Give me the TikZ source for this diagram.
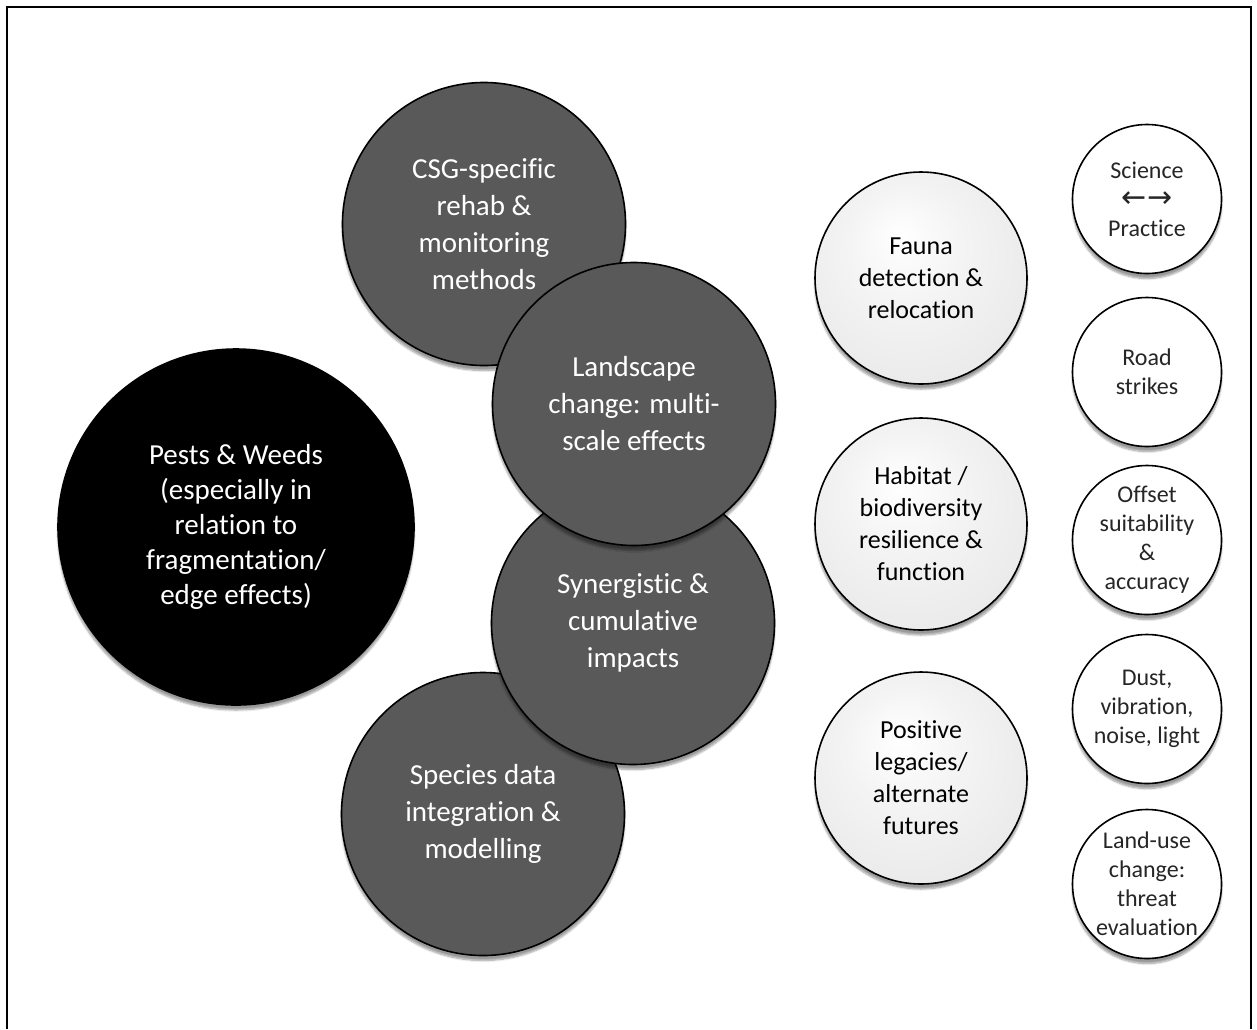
\documentclass[tikz,border=0pt]{standalone}
\usepackage{fontspec}
\setmainfont{Carlito}[RawFeature={-liga;-clig;-calt}]
\newfontfamily\arrowfont{DejaVu Sans}
\usepackage{tikz}
\usetikzlibrary{shapes,shadows,shadows.blur}

\definecolor{dkfill}{RGB}{89,89,89}
\definecolor{dkrim}{RGB}{60,60,60}
\pgfdeclareradialshading{darkball}{\pgfpoint{0bp}{3bp}}{color(0bp)=(dkfill); color(43bp)=(dkfill); color(50bp)=(dkrim)}
\pgfdeclareradialshading{lightball}{\pgfpoint{-5bp}{10bp}}{color(0bp)=(white); color(14bp)=(gray!9); color(38bp)=(gray!20); color(50bp)=(gray!42)}
\pgfdeclareradialshading{whiteball}{\pgfpoint{-3bp}{7bp}}{color(0bp)=(white); color(38bp)=(white); color(48bp)=(gray!22); color(52bp)=(gray!45)}

\begin{document}
\begin{tikzpicture}[x=1pt, y=-1pt]
    \tikzstyle{ball} = [circle, inner sep=0pt, align=center, draw=black, line width=1.6pt,
      blur shadow={shadow xshift=0pt, shadow yshift=-5pt, shadow blur steps=8, shadow opacity=40}]
    \tikzstyle{bnode} = [ball, fill=black, text=white, minimum size=356pt, font=\fontsize{29}{35}\selectfont]
    \tikzstyle{dnode} = [ball, shade, shading=darkball, text=white, minimum size=283pt, font=\fontsize{29}{37}\selectfont]
    \tikzstyle{lnode} = [ball, shade, shading=lightball, text=black, minimum size=212pt, font=\fontsize{26}{32}\selectfont]
    \tikzstyle{snode} = [ball, shade, shading=whiteball, text=black!85, minimum size=149pt, font=\fontsize{24}{29}\selectfont]

    \useasboundingbox (0,0) rectangle (1257,1029);
    \draw[line width=2.4pt] (7,1029) -- (7,7) -- (1251,7) -- (1251,1029);

    \node[bnode] (pests) at (236,527) {Pests \& Weeds\\(especially in\\relation to\\fragmentation/\\edge effects)};

    \node[dnode] (csg) at (484,224) {CSG-specific\\rehab \&\\monitoring\\methods};
    \node[dnode] (species) at (483,814) {Species data\\integration \&\\modelling};
    \node[dnode] (synerg) at (633,623) {Synergistic \&\\cumulative\\impacts};
    \node[dnode] (landsc) at (634,404) {Landscape\\change: multi-\\scale effects};

    \node[lnode] (fauna) at (921,278) {Fauna\\detection \&\\relocation};
    \node[lnode] (habitat) at (921,524) {Habitat /\\biodiversity\\resilience \&\\function};
    \node[lnode] (legacy) at (921,778) {Positive\\legacies/\\alternate\\futures};

    \node[snode] (science) at (1147,199) {Science\\{\arrowfont\fontsize{30}{29}\selectfont ←→}\\Practice};
    \node[snode] (road) at (1147,372) {Road\\strikes};
    \node[snode] (offset) at (1147,540) {Offset\\suitability\\\&\\accuracy};
    \node[snode] (dust) at (1147,709) {Dust,\\vibration,\\noise, light};
    \node[snode] (landuse) at (1147,884) {Land-use\\change:\\threat\\evaluation};

\end{tikzpicture}
\end{document}
